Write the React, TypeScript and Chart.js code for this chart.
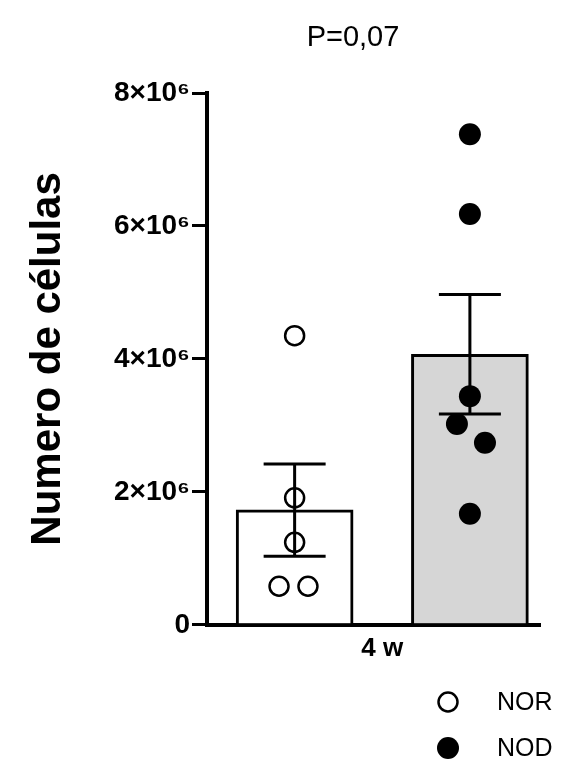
import { useEffect, useRef } from 'react';
import { Chart, registerables } from 'chart.js';

Chart.register(...registerables);

const FONT = '"Liberation Sans", Arial, Helvetica, sans-serif';

const groups = ['NOR', 'NOD'];
const groupPositions = [1, 2];
const groupLabel = '4 w';
const barMeans = [1.73e6, 4.07e6];
const semLow = [1.03e6, 3.17e6];
const semHigh = [2.42e6, 4.97e6];
const norValues = [4.35e6, 1.91e6, 1.24e6, 0.58e6, 0.58e6];
const norX = [1, 1, 1, 0.911, 1.076];
const nodValues = [7.38e6, 6.18e6, 3.44e6, 3.02e6, 2.74e6, 1.67e6];
const nodX = [2, 2, 2, 1.926, 2.086, 2];
const yTicks = [0, 2e6, 4e6, 6e6, 8e6];
const yTickLabels = ['0', '2×10⁶', '4×10⁶', '6×10⁶', '8×10⁶'];
const titleText = 'P=0,07';
const yTitle = 'Numero de células';

const errorBarPlugin = {
  id: 'errorBars',
  afterDatasetsDraw(chart: any) {
    const { ctx } = chart;
    const xs = chart.scales.x;
    const ys = chart.scales.y;
    ctx.save();
    ctx.strokeStyle = '#000';
    ctx.lineWidth = 3;
    groupPositions.forEach((p, i) => {
      const px = xs.getPixelForValue(p);
      const lo = ys.getPixelForValue(semLow[i]);
      const hi = ys.getPixelForValue(semHigh[i]);
      ctx.beginPath();
      ctx.moveTo(px, lo);
      ctx.lineTo(px, hi);
      ctx.moveTo(px - 31, hi);
      ctx.lineTo(px + 31, hi);
      ctx.moveTo(px - 31, lo);
      ctx.lineTo(px + 31, lo);
      ctx.stroke();
    });
    ctx.restore();
  },
};

const textPlugin = {
  id: 'texts',
  afterDraw(chart: any) {
    const { ctx } = chart;
    ctx.save();
    ctx.fillStyle = '#000';
    ctx.textBaseline = 'middle';
    ctx.textAlign = 'center';
    ctx.font = `29px ${FONT}`;
    ctx.fillText(titleText, 353, 38);
    // legend
    ctx.textAlign = 'left';
    ctx.font = `25px ${FONT}`;
    groups.forEach((g, i) => {
      const ds = chart.data.datasets[i];
      const cy = 702 + i * 46;
      ctx.beginPath();
      ctx.arc(448, cy, ds.pointRadius, 0, Math.PI * 2);
      ctx.fillStyle = ds.pointBackgroundColor;
      ctx.fill();
      if (ds.pointBorderWidth > 0) {
        ctx.lineWidth = ds.pointBorderWidth;
        ctx.strokeStyle = '#000';
        ctx.stroke();
      }
      ctx.fillStyle = '#000';
      ctx.fillText(g, 497, cy + 1);
    });
    ctx.restore();
  },
};

export default function App() {
  const ref = useRef<HTMLCanvasElement>(null);
  useEffect(() => {
    document.body.style.margin = '0';
    if (!ref.current) return;
    const chart = new Chart(ref.current, {
      type: 'bar',
      data: {
        datasets: [
          {
            type: 'scatter',
            label: groups[0],
            data: norValues.map((v, i) => ({ x: norX[i], y: v })),
            pointStyle: 'circle',
            pointRadius: 9.5,
            pointHoverRadius: 9.5,
            pointBorderWidth: 2.5,
            pointBackgroundColor: 'rgba(255,255,255,0)',
            pointBorderColor: '#000',
            order: 1,
          } as any,
          {
            type: 'scatter',
            label: groups[1],
            data: nodValues.map((v, i) => ({ x: nodX[i], y: v })),
            pointStyle: 'circle',
            pointRadius: 11,
            pointHoverRadius: 11,
            pointBorderWidth: 0,
            pointBackgroundColor: '#000',
            pointBorderColor: '#000',
            order: 1,
          } as any,
          {
            type: 'bar',
            label: 'media',
            data: barMeans.map((v, i) => ({ x: groupPositions[i], y: v })),
            backgroundColor: ['#ffffff', '#d6d6d6'],
            borderColor: '#000',
            borderWidth: 3,
            barThickness: 117,
            order: 2,
          } as any,
        ],
      },
      options: {
        responsive: false,
        animation: false,
        layout: { padding: { left: 0, right: 26, top: 93, bottom: 93 } },
        plugins: {
          legend: { display: false },
          tooltip: { enabled: false },
          title: { display: false },
        },
        scales: {
          x: {
            type: 'linear',
            offset: false,
            min: 0.5,
            max: 2.4,
            afterBuildTicks: (s: any) => {
              s.ticks = [{ value: (groupPositions[0] + groupPositions[1]) / 2 }];
            },
            ticks: {
              callback: () => groupLabel,
              font: { family: FONT, size: 26, weight: 'bold' },
              color: '#000',
              padding: 8,
              autoSkip: false,
              maxRotation: 0,
            },
            grid: { display: false, drawTicks: false, offset: false },
            border: { display: true, color: '#000', width: 4 },
          },
          y: {
            type: 'linear',
            min: 0,
            max: 8e6,
            afterBuildTicks: (s: any) => {
              s.ticks = yTicks.map((v) => ({ value: v }));
            },
            afterFit: (s: any) => {
              s.width = 207;
            },
            ticks: {
              callback: (v: any) => yTickLabels[yTicks.indexOf(Number(v))],
              font: { family: FONT, size: 28, weight: 'bold' },
              color: '#000',
              padding: 2,
            },
            grid: { drawOnChartArea: false, color: '#000', lineWidth: 3, tickLength: 15 },
            border: { display: true, color: '#000', width: 4 },
            title: {
              display: true,
              text: yTitle,
              font: { family: FONT, size: 42, weight: 'bold' },
              color: '#000',
              padding: { top: 23, bottom: 0 },
            },
          },
        },
      } as any,
      plugins: [errorBarPlugin, textPlugin],
    });
    return () => chart.destroy();
  }, []);
  return (
    <div style={{ width: 566, height: 765, background: '#fff' }}>
      <canvas ref={ref} width={566} height={765} />
    </div>
  );
}
